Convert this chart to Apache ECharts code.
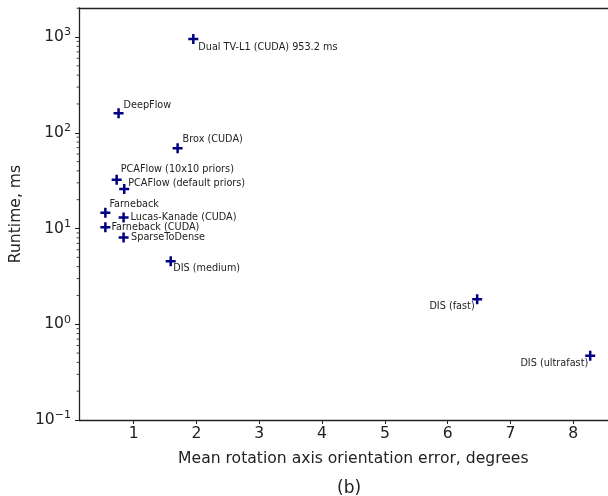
<!DOCTYPE html>
<html>
<head>
<meta charset="utf-8">
<script src="https://cdn.jsdelivr.net/npm/echarts@6/dist/echarts.min.js"></script>
<style>
  html, body { margin: 0; padding: 0; background: #fff; }
  #chart { width: 608px; height: 496px; }
</style>
</head>
<body>
<div id="chart"></div>
<script>
// method names, rotation axis error (degrees) and runtime (ms)
const methods = [
  'Dual TV-L1 (CUDA) 953.2 ms', 'DeepFlow', 'Brox (CUDA)',
  'PCAFlow (10x10 priors)', 'PCAFlow (default priors)', 'Farneback',
  'Lucas-Kanade (CUDA)', 'Farneback (CUDA)', 'SparseToDense',
  'DIS (medium)', 'DIS (fast)', 'DIS (ultrafast)'
]
const errors = [1.95, 0.76, 1.70, 0.73, 0.85, 0.55, 0.84, 0.55, 0.84, 1.59, 6.47, 8.27]
const runtimes = [953.2, 160, 69, 32.3, 25.8, 14.6, 13.0, 10.3, 8.05, 4.55, 1.82, 0.47]

const xTicks = [1, 2, 3, 4, 5, 6, 7, 8]
const yDecades = [0.1, 1, 10, 100, 1000]

// where each label sits next to its marker: [side, dx, dy]
const labelPlace = [
  ['right', 0, 8], ['right', 0, -8], ['right', 0, -9],
  ['right', -1, -10], ['right', -1, -6], ['right', -1, -8],
  ['right', 2, 0], ['right', 1, 0], ['right', 2.5, 0],
  ['right', -2.5, 7], ['left', 2.5, 7], ['left', 3, 8]
]

const plusPath = 'path://M3.75,0H6.25V3.75H10V6.25H6.25V10H3.75V6.25H0V3.75H3.75Z'
const textColor = '#222'
const font = 'DejaVu Sans'

const xMin = 0.13
const xMax = 8.69

// matplotlib-style minor ticks 2..9 per decade
const minorVals = []
yDecades.forEach(d => {
  for (let k = 2; k <= 9; k++) {
    if (d * k <= 2010) minorVals.push(d * k)
  }
})

const chart = echarts.init(document.getElementById('chart'))

const scatterData = methods.map((m, i) => ({
  value: [errors[i], runtimes[i]],
  name: m,
  label: {
    show: true,
    formatter: m,
    position: labelPlace[i][0],
    distance: 0,
    align: labelPlace[i][0] === 'left' ? 'right' : 'left',
    verticalAlign: 'middle',
    offset: [labelPlace[i][1], labelPlace[i][2]],
    fontFamily: font,
    fontSize: 9.7,
    color: textColor
  }
}))

chart.setOption({
  animation: false,
  textStyle: { fontFamily: font },
  grid: { left: 79, top: 8, bottom: 76, right: 608 - 616.6, outerBoundsMode: 'none' },
  graphic: [{
    type: 'text',
    left: 337,
    top: 480,
    style: { text: '(b)', font: '17px "DejaVu Sans"', fill: textColor }
  }],
  xAxis: [{
    type: 'value',
    min: xMin,
    max: xMax,
    splitNumber: 9,
    name: 'Mean rotation axis orientation error, degrees',
    nameLocation: 'middle',
    nameGap: 31,
    nameTextStyle: { fontSize: 15.6, color: textColor, fontFamily: font, padding: [0, 0, 0, 11] },
    axisLine: { lineStyle: { color: textColor, width: 1.3 } },
    axisTick: { inside: false, length: 4, lineStyle: { color: textColor } },
    axisLabel: {
      fontSize: 15.6, color: textColor, fontFamily: font, margin: 6,
      showMinLabel: false, showMaxLabel: false,
      formatter: v => xTicks.indexOf(v) >= 0 ? String(v) : ''
    },
    splitLine: { show: false }
  }, {
    type: 'value',
    position: 'top',
    min: xMin,
    max: xMax,
    axisLine: { show: true, onZero: false, lineStyle: { color: textColor, width: 1.3 } },
    axisTick: { show: false },
    axisLabel: { show: false },
    splitLine: { show: false }
  }],
  yAxis: {
    type: 'log',
    logBase: 10,
    min: 0.1,
    max: 2010,
    name: 'Runtime, ms',
    nameLocation: 'middle',
    nameGap: 49,
    nameTextStyle: { fontSize: 15.6, color: textColor, fontFamily: font },
    axisLine: { show: true, lineStyle: { color: textColor, width: 1.3 } },
    axisTick: { inside: false, length: 4, lineStyle: { color: textColor } },
    axisLabel: {
      fontSize: 15.6, color: textColor, fontFamily: font, margin: 8,
      showMaxLabel: false,
      formatter: v => {
        const e = Math.log10(v)
        if (Math.abs(e - Math.round(e)) > 1e-6) return ''
        const r = Math.round(e)
        return '10{e|' + (r < 0 ? '\u2212' + (-r) : r) + '}'
      },
      rich: {
        e: { fontSize: 11, color: textColor, fontFamily: font, padding: [0, 0, 9, 0] }
      }
    },
    splitLine: { show: false }
  },
  series: [{
    type: 'scatter',
    data: scatterData,
    symbol: plusPath,
    symbolSize: 10,
    itemStyle: { color: '#000080', opacity: 1 },
    emphasis: { disabled: true },
    z: 3
  }, {
    type: 'custom',
    silent: true,
    clip: false,
    data: minorVals.map(v => [xMin, v]),
    renderItem: (params, api) => {
      const p = api.coord([api.value(0), api.value(1)])
      return {
        type: 'line',
        shape: { x1: p[0] - 2.5, y1: p[1], x2: p[0], y2: p[1] },
        style: { stroke: textColor, lineWidth: 0.8 }
      }
    }
  }]
})
</script>
</body>
</html>
